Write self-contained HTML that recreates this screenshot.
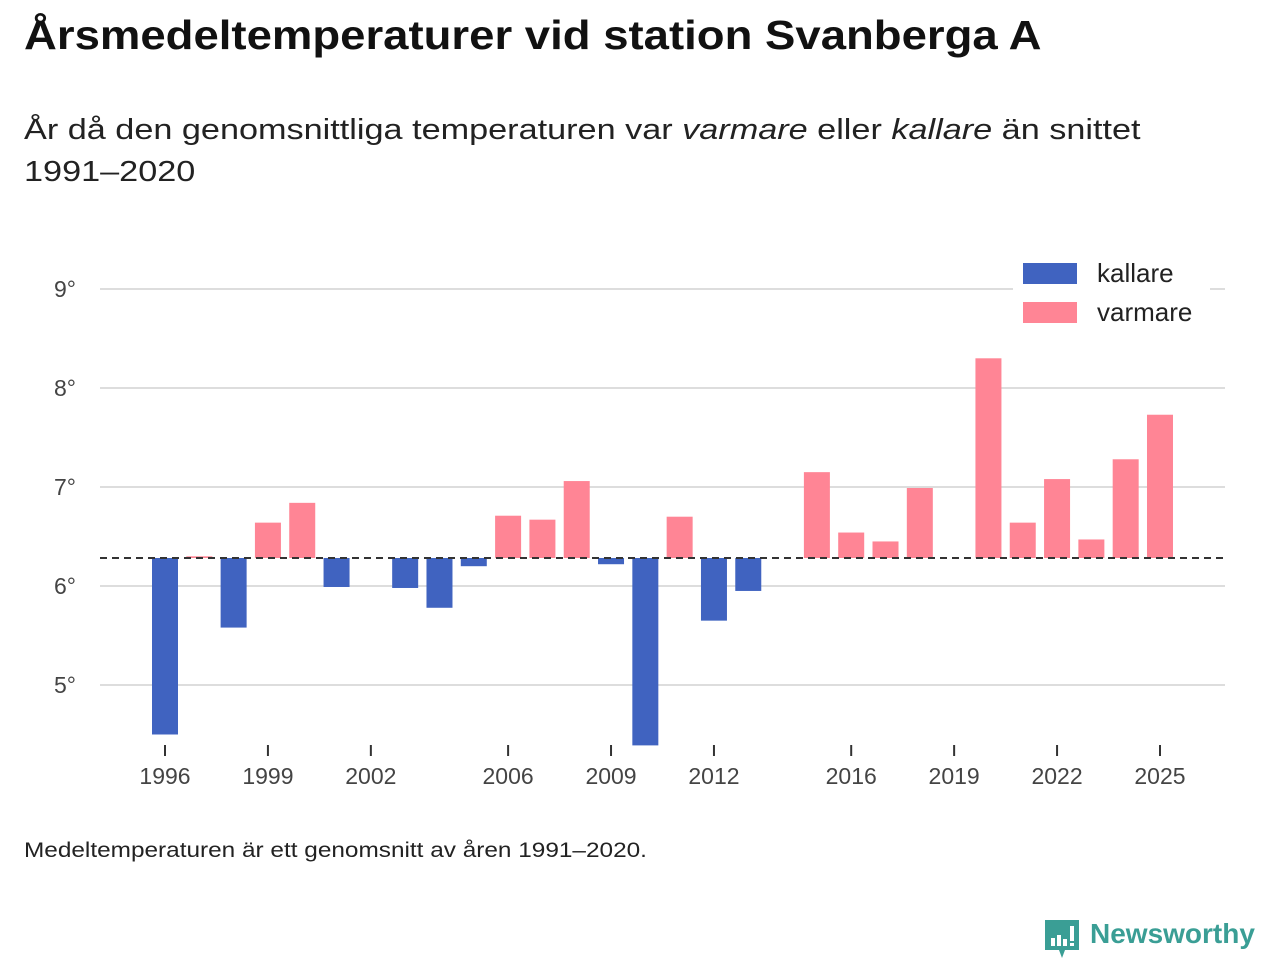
<!DOCTYPE html>
<html><head><meta charset="utf-8">
<style>
body{margin:0;width:1280px;height:960px;background:#fff;font-family:"Liberation Sans",sans-serif;overflow:hidden;position:relative}
.t{position:absolute;white-space:nowrap;transform-origin:0 0}
</style></head><body>
<div class="t" style="left:24px;top:12px;font-size:41px;font-weight:bold;color:#111;transform:scaleX(1.11)">Årsmedeltemperaturer vid station Svanberga A</div>
<div class="t" style="left:24px;top:109px;font-size:29px;color:#222;line-height:42px;transform:scaleX(1.18)">År då den genomsnittliga temperaturen var <i>varmare</i> eller <i>kallare</i> än snittet<br>1991–2020</div>
<svg id="chart" width="1280" height="960" style="position:absolute;left:0;top:0"></svg>
<div class="t" style="left:24px;top:839px;font-size:21px;color:#222;transform:scaleX(1.16)">Medeltemperaturen är ett genomsnitt av åren 1991–2020.</div>
<div style="position:absolute;left:1045px;top:918px">
<svg width="34" height="42" viewBox="0 0 34 42"><path d="M0 2h34v30H20l-3 8-3-8H0z" fill="#3a9e95"/><rect x="6" y="20" width="4" height="8" fill="#fff"/><rect x="12" y="17" width="4" height="11" fill="#fff"/><rect x="18" y="21" width="4" height="7" fill="#fff"/><rect x="25" y="8" width="4" height="15" fill="#fff"/><rect x="25" y="25" width="4" height="3" fill="#fff"/></svg>
</div>
<div class="t" style="left:1090px;top:918px;font-size:28px;font-weight:bold;color:#3a9e95">Newsworthy</div>
<script>
const years=[1996,1997,1998,1999,2000,2001,2002,2003,2004,2005,2006,2007,2008,2009,2010,2011,2012,2013,2014,2015,2016,2017,2018,2019,2020,2021,2022,2023,2024,2025];
const temps=[4.50,6.30,5.58,6.64,6.84,5.99,null,5.98,5.78,6.20,6.71,6.67,7.06,6.22,4.39,6.70,5.65,5.95,null,7.15,6.54,6.45,6.99,null,8.30,6.64,7.08,6.47,7.28,7.73];
const mean=6.283;
const yTicks=[5,6,7,8,9];
const xTicks=[1996,1999,2002,2006,2009,2012,2016,2019,2022,2025];
const NS="http://www.w3.org/2000/svg",svg=document.getElementById('chart');
const x=y=>165+(y-1996)*34.31;
const yS=v=>586-(v-6)*99;
function mk(t,a,p){const e=document.createElementNS(NS,t);for(const k in a)e.setAttribute(k,a[k]);(p||svg).appendChild(e);return e;}
yTicks.forEach(v=>{
 const l=mk('line',{x1:100,x2:1225,y1:yS(v),y2:yS(v),stroke:'#ddd','stroke-width':2});
 
 
 const t=mk('text',{x:54,y:yS(v)+8,'font-size':23,fill:'#444','font-family':'Liberation Sans'});t.textContent=v+'°';
 
 
});
xTicks.forEach(yr=>{
 const l=mk('line',{x1:x(yr),x2:x(yr),y1:745,y2:756,stroke:'#333','stroke-width':2});
 
 
 const t=mk('text',{x:x(yr),y:784,'font-size':23,fill:'#444','text-anchor':'middle','font-family':'Liberation Sans'});t.textContent=yr;
 
 
});
years.forEach((yr,i)=>{
 const v=temps[i];if(v==null)return;
 const a=yS(v),b=yS(mean);
 const r=mk('rect',{x:x(yr)-13,y:Math.min(a,b),width:26,height:Math.max(1,Math.abs(a-b)),fill:v>=mean?'#ff8595':'#4063c0'});
 
 
});
const d=mk('line',{x1:100,x2:1225,y1:yS(mean),y2:yS(mean),stroke:'#333','stroke-width':2,'stroke-dasharray':'7,5'});


const lg=mk('g',{});


mk('rect',{x:1013,y:255,width:197,height:78,fill:'#fff'},lg);
[['kallare','#4063c0',263],['varmare','#ff8595',302]].forEach(([n,c,yy])=>{
 const r=mk('rect',{x:1023,y:yy,width:54,height:21,fill:c},lg);
 
 
 const t=mk('text',{x:1097,y:yy+19,'font-size':26,fill:'#222','font-family':'Liberation Sans'},lg);t.textContent=n;
 
 
});
</script>
</body></html>
